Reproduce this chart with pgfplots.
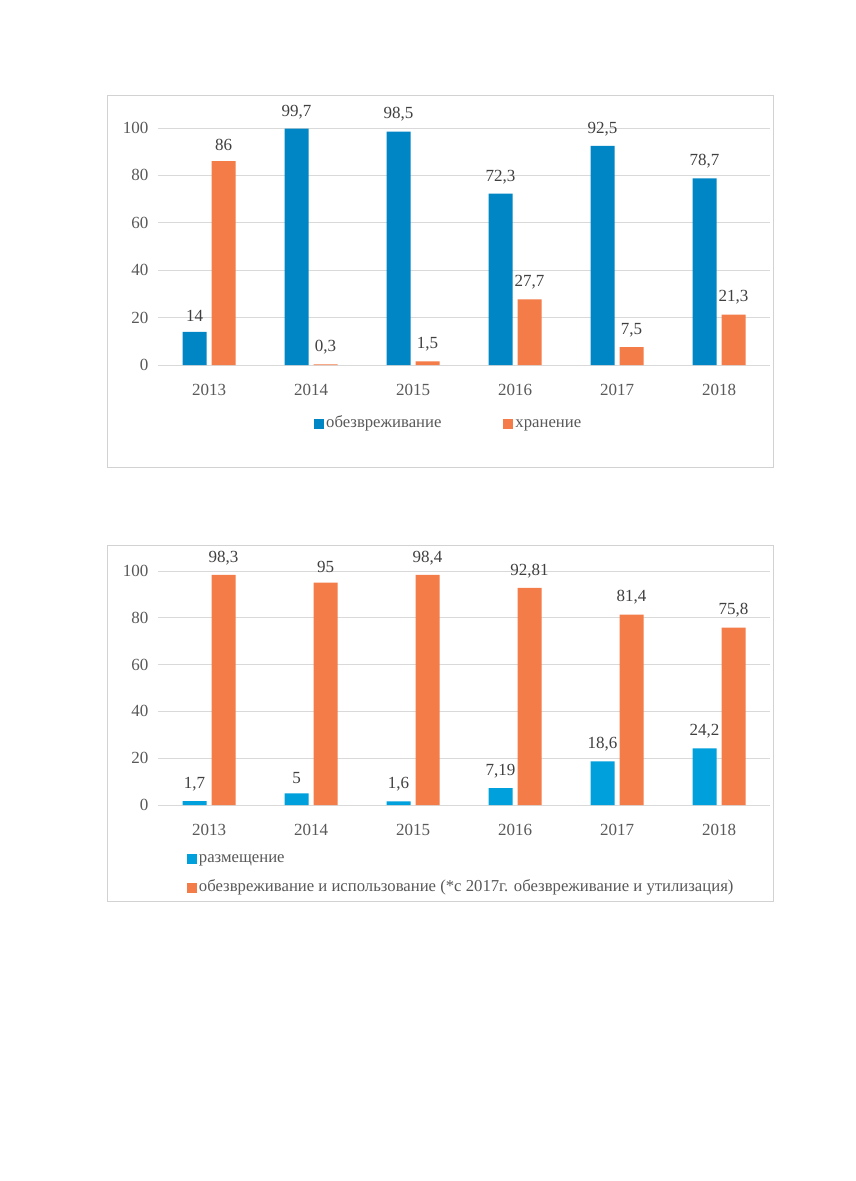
\documentclass[border=0pt]{standalone}
\usepackage{fontspec}
\setmainfont{Liberation Serif}
\usepackage{pgfplots}
\pgfplotsset{compat=1.18}
\definecolor{blueA}{RGB}{0,134,197}
\definecolor{blueB}{RGB}{0,160,221}
\definecolor{orangeA}{RGB}{243,124,72}
\definecolor{gridc}{RGB}{217,217,217}
\definecolor{boxc}{RGB}{210,210,210}
\definecolor{txt}{RGB}{89,89,89}
\definecolor{lbl}{RGB}{64,64,64}
\newcommand\fs{\fontsize{17}{20}\selectfont}
\newcommand\fl{\fontsize{16.7}{20}\selectfont}
\pgfplotsset{mystyle/.style={
  scale only axis, width=612pt, xmin=-0.5, xmax=5.5, ymin=0, ymax=100,
  ybar=5pt, bar width=24pt,
  axis x line*=bottom, axis y line*=left,
  x axis line style={draw=gridc, line width=0.8pt, -},
  y axis line style={draw=none},
  ymajorgrids, grid style={draw=gridc, line width=0.8pt},
  ytick={0,20,...,100}, xtick={0,...,5},
  xticklabels={2013,2014,2015,2016,2017,2018},
  major tick length=0pt,
  tick label style={font=\fs, text=txt},
  yticklabel style={xshift=-6pt},
  xticklabel style={yshift=-16pt},
  /pgf/number format/assume math mode=true,
  /pgf/number format/use comma,
  /pgf/number format/fixed,
  /pgf/number format/precision=2,
  nodes near coords,
  nodes near coords style={font=\fs, text=lbl, yshift=6.5pt},
  every axis plot/.append style={draw=none},
  clip=false,
  legend cell align=left,
  legend style={draw=none, fill=none, font=\fl, text=txt, inner sep=0pt,
    nodes={text height=0.7em, text depth=0.2em, inner xsep=2pt}},
  legend image code/.code={\fill[##1] (0pt,-4.5pt) rectangle (10pt,5.5pt);},
}}
\begin{document}
\begin{tikzpicture}
\fill[white] (0,0) rectangle (856pt,-1181pt);
\draw[boxc, line width=1pt] (107pt,-95pt) rectangle (773pt,-467pt);
\draw[boxc, line width=1pt] (107pt,-545pt) rectangle (773pt,-901pt);
\begin{axis}[mystyle, height=237pt, at={(158pt,-365pt)}, anchor=south west,
  legend columns=2,
  legend style={at={(0.475,-0.253)}, anchor=center,
    /tikz/every even column/.append style={column sep=60pt}}]
\addplot[fill=blueA] coordinates {(0,14) (1,99.7) (2,98.5) (3,72.3) (4,92.5) (5,78.7)};
\addplot[fill=orangeA] coordinates {(0,86) (1,0.3) (2,1.5) (3,27.7) (4,7.5) (5,21.3)};
\legend{обезвреживание, хранение}
\end{axis}
\begin{axis}[mystyle, height=234pt, at={(158pt,-805pt)}, anchor=south west,
  legend columns=1,
  legend style={at={(0.047,-0.205)}, anchor=north west, row sep=16pt}]
\addplot[fill=blueB] coordinates {(0,1.7) (1,5) (2,1.6) (3,7.19) (4,18.6) (5,24.2)};
\addplot[fill=orangeA] coordinates {(0,98.3) (1,95) (2,98.4) (3,92.81) (4,81.4) (5,75.8)};
\legend{размещение, обезвреживание и использование (*с 2017г. обезвреживание и утилизация)}
\end{axis}
\end{tikzpicture}
\end{document}
